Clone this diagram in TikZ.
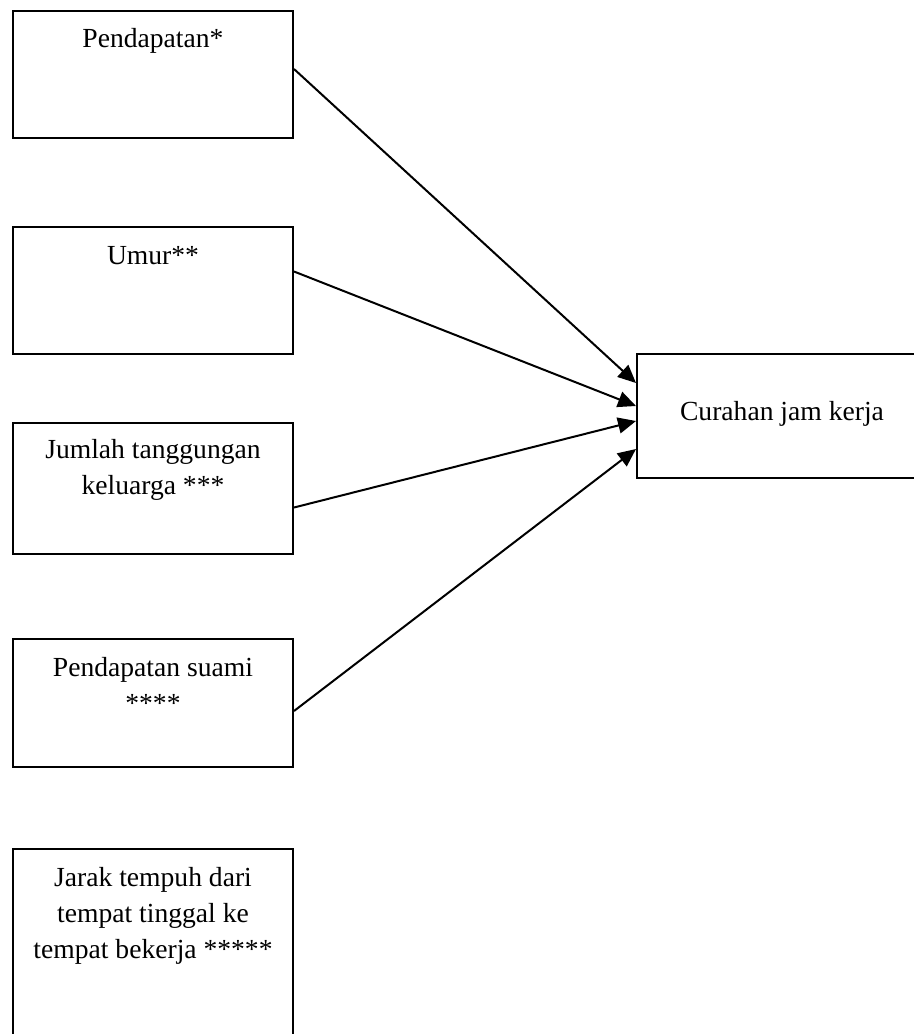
\documentclass[tikz,border=0pt]{standalone}
\usepackage{fontspec}
\setmainfont{Liberation Serif}
\usetikzlibrary{arrows.meta,calc,positioning}

\begin{document}
\begin{tikzpicture}[x=0.5pt,y=-0.5pt,line width=1pt,
                    every node/.append style={font=\fontsize{13.8pt}{18.2pt}\selectfont,
                    draw, inner sep=0pt, anchor=north west, align=flush center},
                    faktor/.style={text width=140pt},
                    panah/.style={-{Triangle[length=9pt,width=8pt]}}]
    \clip (0,0) rectangle (914,1034);
    \node[faktor, text height=18pt, text depth=45.5pt] (pendapatan) at (12,10) {Pendapatan*};
    \node[faktor, text height=18.5pt, text depth=45pt] (umur) at (12,226) {Umur**};
    \node[faktor, text height=17.5pt, text depth=48pt] (tanggungan) at (12,422) {Jumlah tanggungan\\ keluarga ***};
    \node[faktor, text height=18.5pt, text depth=45.5pt] (suami) at (12,638) {Pendapatan suami\\ {}****};
    \node[faktor, text height=18.5pt, text depth=92pt] (jarak) at (12,848) {Jarak tempuh dari\\ tempat tinggal ke\\ tempat bekerja *****};
    \node[text width=145pt, text height=33pt, text depth=29pt] (curahan) at (636,353) {Curahan jam kerja};
    \draw[panah] ($(pendapatan.east)+(0,-5.5)$) -- ($(curahan.west)+(0,-33)$);
    \draw[panah] ($(umur.east)+(0,-19)$) -- ($(curahan.west)+(0,-10)$);
    \draw[panah] ($(tanggungan.east)+(0,19)$) -- ($(curahan.west)+(0,5)$);
    \draw[panah] ($(suami.east)+(0,8)$) -- ($(curahan.west)+(0,33)$);
\end{tikzpicture}
\end{document}
